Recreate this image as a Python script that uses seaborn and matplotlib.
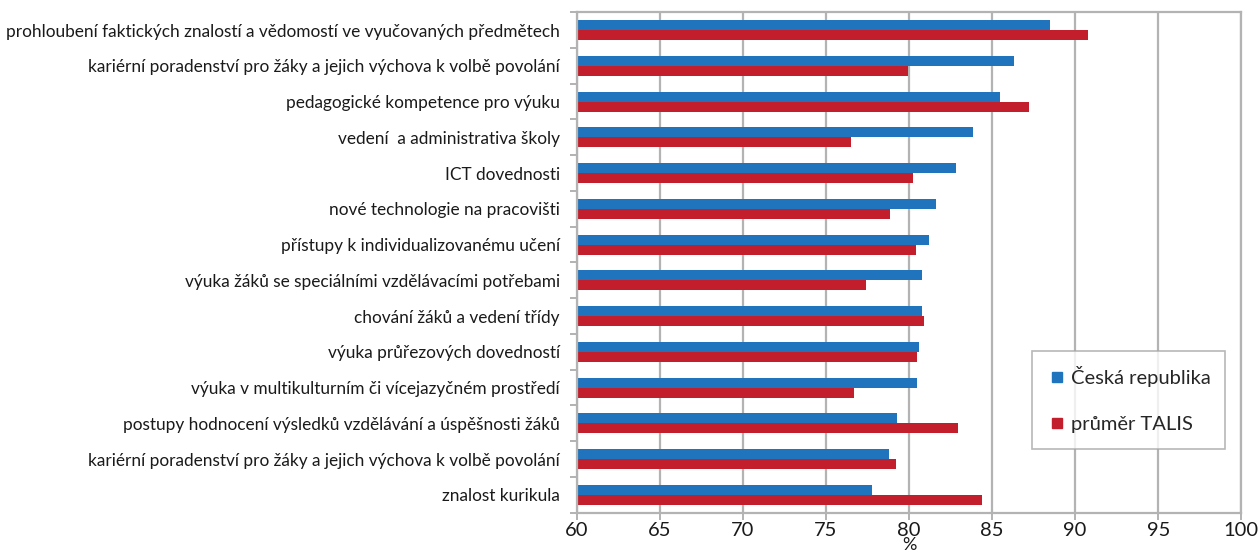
import pandas as pd
import numpy as np
import matplotlib.pyplot as plt
import seaborn as sns
from matplotlib.lines import Line2D

# data
temata = [
    'prohloubení faktických znalostí a vědomostí ve vyučovaných předmětech',
    'kariérní poradenství pro žáky a jejich výchova k volbě povolání',
    'pedagogické kompetence pro výuku',
    'vedení  a administrativa školy',
    'ICT dovednosti',
    'nové technologie na pracovišti',
    'přístupy k individualizovanému učení',
    'výuka žáků se speciálními vzdělávacími potřebami',
    'chování žáků a vedení třídy',
    'výuka průřezových dovedností',
    'výuka v multikulturním či vícejazyčném prostředí',
    'postupy hodnocení výsledků vzdělávání a úspěšnosti žáků',
    'kariérní poradenství pro žáky a jejich výchova k volbě povolání',
    'znalost kurikula',
]
cr = [88.5, 86.3, 85.45, 83.85, 82.8, 81.65, 81.2, 80.8, 80.8, 80.6, 80.5, 79.25, 78.8, 77.75]
talis = [90.8, 79.95, 87.2, 76.5, 80.25, 78.85, 80.45, 77.4, 80.9, 80.5, 76.7, 82.95, 79.2, 84.4]
serie = ['Česká republika', 'průměr TALIS']
barvy = ['#1F74BD', '#C21E2C']

# the same topic appears twice, so rows are keyed by their order
poradi = list(range(len(temata)))
df = pd.DataFrame({
    'poradi': poradi * 2,
    'hodnota': cr + talis,
    'serie': [serie[0]] * len(temata) + [serie[1]] * len(temata),
})

sns.set_style('white')
plt.rcParams['font.family'] = ['Lato', 'DejaVu Sans']

fig, ax = plt.subplots(figsize=(12.59, 5.53), dpi=100)
fig.subplots_adjust(left=0.458, right=0.986, top=0.978, bottom=0.073)

sns.barplot(data=df, y='poradi', x='hodnota', hue='serie', hue_order=serie,
            order=poradi, palette=barvy, saturation=1, orient='h', width=0.56,
            ax=ax, edgecolor='none', linewidth=0, legend=False)

ax.set_xlim(60, 100)
ax.set_ylim(len(temata) - 0.5, -0.5)
ax.set_xticks(np.arange(60, 101, 5))
ax.xaxis.grid(True, color='#b3b3b3', linewidth=1.6)
ax.set_axisbelow(True)

ax.set_yticks(poradi)
ax.set_yticklabels(temata)
ax.set_yticks(np.arange(len(temata) + 1) - 0.5, minor=True)
ax.tick_params(axis='y', which='major', length=0, labelsize=12.4, pad=12, colors='#1a1a1a')
ax.tick_params(axis='y', which='minor', length=5, width=1.2, color='#a6a6a6', left=True)
ax.tick_params(axis='x', length=5, width=1.2, labelsize=14.5, bottom=True, pad=2)
ax.tick_params(axis='x', labelcolor='#1a1a1a', color='#a6a6a6')

for s in ax.spines.values():
    s.set_color('#b3b3b3')
    s.set_linewidth(1.6)

ax.set_xlabel('%', fontsize=13, labelpad=-1.5, color='#1a1a1a')
ax.set_ylabel('')

handles = [Line2D([], [], marker='s', linestyle='none', markersize=7.5, color=c) for c in barvy]
leg = ax.legend(handles, serie, loc='lower right', bbox_to_anchor=(0.976, 0.128),
                borderaxespad=0, fontsize=14.5, frameon=True, fancybox=False,
                labelspacing=1.45, handletextpad=0.15, handlelength=1.0,
                borderpad=0.75)
leg.get_frame().set_edgecolor('#a6a6a6')
leg.get_frame().set_linewidth(1.2)

plt.savefig('out.png', dpi=100)
